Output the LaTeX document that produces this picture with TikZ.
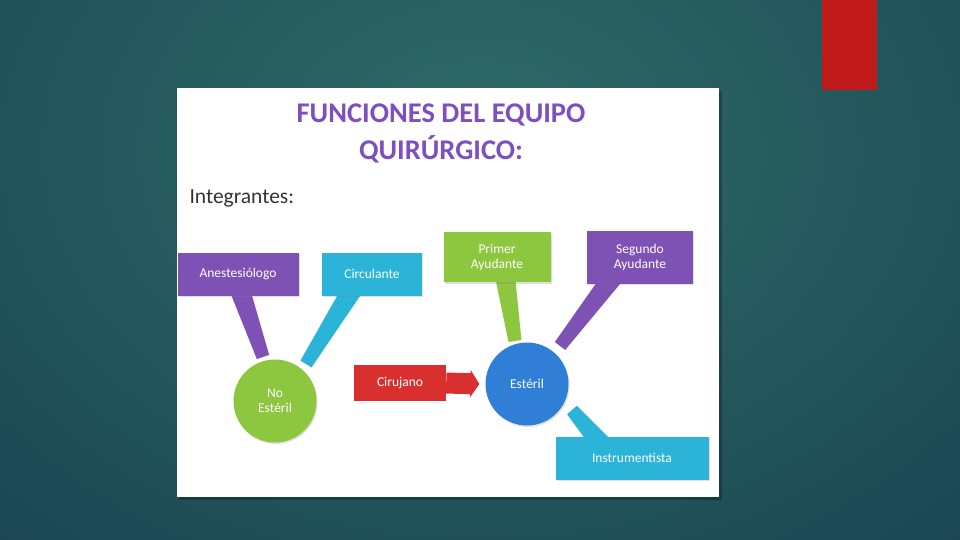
\documentclass[tikz,border=0pt]{standalone}
\usepackage{fontspec}
\setmainfont{Carlito}
\usetikzlibrary{arrows.meta,calc,shadows}
\definecolor{bgin}{HTML}{2F6B68}
\definecolor{bgout}{HTML}{163D4D}
\definecolor{barred}{HTML}{C11A1A}
\definecolor{titlepurple}{HTML}{7D4FC0}
\definecolor{cpurple}{HTML}{7E52B4}
\definecolor{ccyan}{HTML}{2BB3D8}
\definecolor{cgreen}{HTML}{8DC63F}
\definecolor{cred}{HTML}{D9302F}
\definecolor{cblue}{HTML}{2F7FD6}
\begin{document}
\begin{tikzpicture}[x=1pt,y=-1pt,
  box/.style={rectangle, fill=#1, text=white, font=\fontsize{13.5}{15}\selectfont,
    align=center, inner sep=2pt,
    drop shadow={opacity=0.25, shadow xshift=1pt, shadow yshift=-1.5pt}},
  circ/.style={circle, fill=#1, text=white, font=\fontsize{13.5}{15}\selectfont, align=center,
    minimum size=83pt, inner sep=0pt,
    drop shadow={opacity=0.25, shadow xshift=1pt, shadow yshift=-1.5pt}},
  redbox/.style={rectangle, fill=cred, text=white, font=\fontsize{13.5}{14}\selectfont,
    minimum width=92pt, minimum height=36pt, inner sep=0pt}
]
\useasboundingbox (0,0) rectangle (960,540);
\begin{scope}
\clip (0,0) rectangle (960,540);
\shade[inner color=bgin, outer color=bgout] (-420,-520) rectangle (1380,820);
\end{scope}
\fill[barred] (822,0) rectangle (877,90);
% panel
\fill[black, opacity=0.25] (179,91) rectangle (722,500);
\fill[white] (177,88) rectangle (719,497);
% title
\node[text=titlepurple, font=\bfseries\fontsize{28.5}{37}\selectfont, align=center] (title) at (441,133)
  {FUNCIONES DEL EQUIPO\\QUIRÚRGICO:};
\node[anchor=west, text=black!80, font=\fontsize{21.5}{24}\selectfont] (integ) at (186,198) {Integrantes:};
% circles
\node[circ=cgreen] (ne) at (275,401) {No\\Estéril};
\node[circ=cblue] (es) at (527,384) {Estéril};
% pointer coordinates
\coordinate (pa) at (240,290); \coordinate (ta) at (263,357);
\coordinate (pc) at (352,290); \coordinate (tc) at (306,364);
\coordinate (pp) at (505,276); \coordinate (tp) at (515,341);
\coordinate (ps) at (612,278); \coordinate (ts) at (560,346);
\coordinate (pi) at (602,445); \coordinate (ti) at (572,410);
\newcommand{\pointer}[3]{%
  \fill[#1] ($(#2)!10pt!90:(#3)$) -- ($(#3)!6.5pt!-90:(#2)$) -- ($(#3)!6.5pt!90:(#2)$) -- ($(#2)!10pt!-90:(#3)$) -- cycle;}
\pointer{cpurple}{pa}{ta}
\pointer{ccyan}{pc}{tc}
\pointer{cgreen}{pp}{tp}
\pointer{cpurple}{ps}{ts}
\pointer{ccyan}{pi}{ti}
% boxes
\node[box=cpurple, minimum width=121pt, minimum height=43pt] (anest) at (238,274) {Anestesiólogo};
\node[box=ccyan, minimum width=100pt, minimum height=43pt] (circu) at (372,274) {Circulante};
\node[box=cgreen, minimum width=107pt, minimum height=50pt] (prim) at (497,257) {Primer\\Ayudante};
\node[box=cpurple, minimum width=106pt, minimum height=53pt] (seg) at (640,257) {Segundo\\Ayudante};
\node[box=ccyan, minimum width=153pt, minimum height=43pt] (instr) at (632,458) {Instrumentista};
% red arrow box
\node[redbox] (ciru) at (400,383) {Cirujano};
\draw[cred, line width=21pt, -{Triangle[length=9pt,width=27pt]}] (ciru.east) -- ($(es.west)+(-6,0)$);
\end{tikzpicture}
\end{document}
